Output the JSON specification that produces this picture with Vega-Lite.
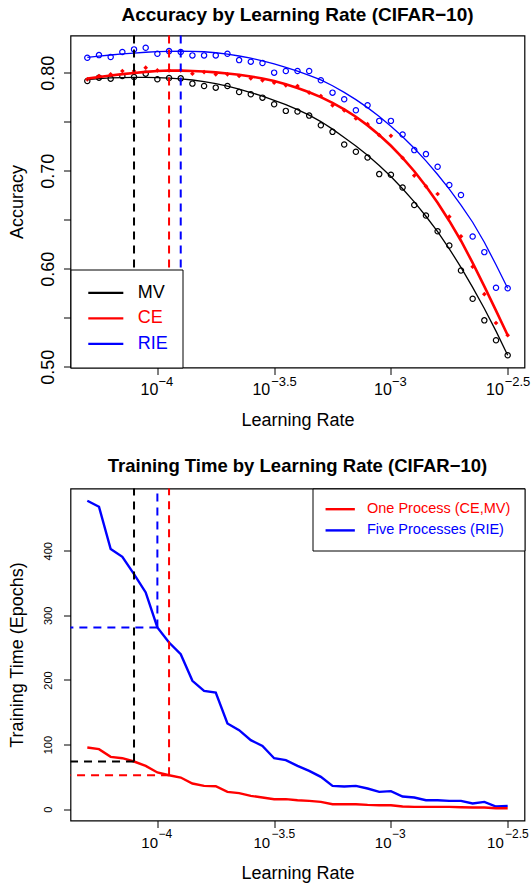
{
  "$schema": "https://vega.github.io/schema/vega-lite/v6.json",
  "padding": {"left": 7.5, "top": 4.5, "right": 0, "bottom": 0},
  "spacing": 121,
  "bounds": "flush",
  "config": {
    "font": "Liberation Sans",
    "view": {"stroke": "black", "strokeWidth": 1.2},
    "axis": {"domain": false, "grid": false, "tickColor": "black", "tickSize": 7, "tickWidth": 1, "labelColor": "black", "titleColor": "black", "labelFont": "Liberation Sans", "titleFont": "Liberation Sans", "titleFontWeight": "normal", "labelFlush": false, "labelOverlap": false},
    "title": {"font": "Liberation Sans", "fontWeight": "bold", "color": "black", "anchor": "middle", "baseline": "alphabetic"}
  },
  "datasets": {
    "accuracy": [
      {"series": "MV", "log10_lr": -4.3, "observed": 0.7915, "fitted": 0.7928},
      {"series": "MV", "log10_lr": -4.25, "observed": 0.7949, "fitted": 0.7939},
      {"series": "MV", "log10_lr": -4.2, "observed": 0.7939, "fitted": 0.7946},
      {"series": "MV", "log10_lr": -4.15, "observed": 0.7966, "fitted": 0.795},
      {"series": "MV", "log10_lr": -4.1, "observed": 0.7956, "fitted": 0.7952},
      {"series": "MV", "log10_lr": -4.05, "observed": 0.799, "fitted": 0.7952},
      {"series": "MV", "log10_lr": -4.0, "observed": 0.7932, "fitted": 0.7949},
      {"series": "MV", "log10_lr": -3.95, "observed": 0.7945, "fitted": 0.7944},
      {"series": "MV", "log10_lr": -3.9, "observed": 0.7942, "fitted": 0.7936},
      {"series": "MV", "log10_lr": -3.85, "observed": 0.7888, "fitted": 0.7925},
      {"series": "MV", "log10_lr": -3.8, "observed": 0.7864, "fitted": 0.7909},
      {"series": "MV", "log10_lr": -3.75, "observed": 0.7847, "fitted": 0.7889},
      {"series": "MV", "log10_lr": -3.7, "observed": 0.7864, "fitted": 0.7863},
      {"series": "MV", "log10_lr": -3.65, "observed": 0.7803, "fitted": 0.7833},
      {"series": "MV", "log10_lr": -3.6, "observed": 0.7779, "fitted": 0.7797},
      {"series": "MV", "log10_lr": -3.55, "observed": 0.7745, "fitted": 0.7761},
      {"series": "MV", "log10_lr": -3.5, "observed": 0.7678, "fitted": 0.7718},
      {"series": "MV", "log10_lr": -3.45, "observed": 0.761, "fitted": 0.7674},
      {"series": "MV", "log10_lr": -3.4, "observed": 0.7603, "fitted": 0.7623},
      {"series": "MV", "log10_lr": -3.35, "observed": 0.7562, "fitted": 0.7566},
      {"series": "MV", "log10_lr": -3.3, "observed": 0.7464, "fitted": 0.7501},
      {"series": "MV", "log10_lr": -3.25, "observed": 0.7396, "fitted": 0.7424},
      {"series": "MV", "log10_lr": -3.2, "observed": 0.7267, "fitted": 0.7339},
      {"series": "MV", "log10_lr": -3.15, "observed": 0.7193, "fitted": 0.7252},
      {"series": "MV", "log10_lr": -3.1, "observed": 0.7135, "fitted": 0.7157},
      {"series": "MV", "log10_lr": -3.05, "observed": 0.6965, "fitted": 0.7053},
      {"series": "MV", "log10_lr": -3.0, "observed": 0.6959, "fitted": 0.6941},
      {"series": "MV", "log10_lr": -2.95, "observed": 0.6828, "fitted": 0.6815},
      {"series": "MV", "log10_lr": -2.9, "observed": 0.665, "fitted": 0.6681},
      {"series": "MV", "log10_lr": -2.85, "observed": 0.6542, "fitted": 0.6535},
      {"series": "MV", "log10_lr": -2.8, "observed": 0.6382, "fitted": 0.6378},
      {"series": "MV", "log10_lr": -2.75, "observed": 0.6236, "fitted": 0.6203},
      {"series": "MV", "log10_lr": -2.7, "observed": 0.5982, "fitted": 0.6014},
      {"series": "MV", "log10_lr": -2.65, "observed": 0.5694, "fitted": 0.581},
      {"series": "MV", "log10_lr": -2.6, "observed": 0.5473, "fitted": 0.5594},
      {"series": "MV", "log10_lr": -2.55, "observed": 0.527, "fitted": 0.5363},
      {"series": "MV", "log10_lr": -2.5, "observed": 0.5117, "fitted": 0.5117},
      {"series": "CE", "log10_lr": -4.3, "observed": 0.7932, "fitted": 0.7939},
      {"series": "CE", "log10_lr": -4.25, "observed": 0.7966, "fitted": 0.7956},
      {"series": "CE", "log10_lr": -4.2, "observed": 0.7983, "fitted": 0.7971},
      {"series": "CE", "log10_lr": -4.15, "observed": 0.8017, "fitted": 0.7985},
      {"series": "CE", "log10_lr": -4.1, "observed": 0.8017, "fitted": 0.7997},
      {"series": "CE", "log10_lr": -4.05, "observed": 0.8051, "fitted": 0.8008},
      {"series": "CE", "log10_lr": -4.0, "observed": 0.8023, "fitted": 0.8017},
      {"series": "CE", "log10_lr": -3.95, "observed": 0.8023, "fitted": 0.8022},
      {"series": "CE", "log10_lr": -3.9, "observed": 0.8023, "fitted": 0.8021},
      {"series": "CE", "log10_lr": -3.85, "observed": 0.799, "fitted": 0.8017},
      {"series": "CE", "log10_lr": -3.8, "observed": 0.8006, "fitted": 0.8011},
      {"series": "CE", "log10_lr": -3.75, "observed": 0.7983, "fitted": 0.8003},
      {"series": "CE", "log10_lr": -3.7, "observed": 0.7983, "fitted": 0.7992},
      {"series": "CE", "log10_lr": -3.65, "observed": 0.7966, "fitted": 0.7978},
      {"series": "CE", "log10_lr": -3.6, "observed": 0.7942, "fitted": 0.7961},
      {"series": "CE", "log10_lr": -3.55, "observed": 0.7922, "fitted": 0.794},
      {"series": "CE", "log10_lr": -3.5, "observed": 0.7898, "fitted": 0.7915},
      {"series": "CE", "log10_lr": -3.45, "observed": 0.7871, "fitted": 0.7882},
      {"series": "CE", "log10_lr": -3.4, "observed": 0.7864, "fitted": 0.7844},
      {"series": "CE", "log10_lr": -3.35, "observed": 0.7796, "fitted": 0.78},
      {"series": "CE", "log10_lr": -3.3, "observed": 0.7762, "fitted": 0.775},
      {"series": "CE", "log10_lr": -3.25, "observed": 0.7667, "fitted": 0.7692},
      {"series": "CE", "log10_lr": -3.2, "observed": 0.7616, "fitted": 0.7626},
      {"series": "CE", "log10_lr": -3.15, "observed": 0.7532, "fitted": 0.755},
      {"series": "CE", "log10_lr": -3.1, "observed": 0.7474, "fitted": 0.7462},
      {"series": "CE", "log10_lr": -3.05, "observed": 0.7362, "fitted": 0.7364},
      {"series": "CE", "log10_lr": -3.0, "observed": 0.7355, "fitted": 0.7254},
      {"series": "CE", "log10_lr": -2.95, "observed": 0.713, "fitted": 0.7131},
      {"series": "CE", "log10_lr": -2.9, "observed": 0.695, "fitted": 0.6994},
      {"series": "CE", "log10_lr": -2.85, "observed": 0.684, "fitted": 0.6841},
      {"series": "CE", "log10_lr": -2.8, "observed": 0.6762, "fitted": 0.6672},
      {"series": "CE", "log10_lr": -2.75, "observed": 0.6531, "fitted": 0.6487},
      {"series": "CE", "log10_lr": -2.7, "observed": 0.633, "fitted": 0.6285},
      {"series": "CE", "log10_lr": -2.65, "observed": 0.602, "fitted": 0.606},
      {"series": "CE", "log10_lr": -2.6, "observed": 0.574, "fitted": 0.582},
      {"series": "CE", "log10_lr": -2.55, "observed": 0.5446, "fitted": 0.5572},
      {"series": "CE", "log10_lr": -2.5, "observed": 0.5321, "fitted": 0.5321},
      {"series": "RIE", "log10_lr": -4.3, "observed": 0.8152, "fitted": 0.8155},
      {"series": "RIE", "log10_lr": -4.25, "observed": 0.8179, "fitted": 0.8168},
      {"series": "RIE", "log10_lr": -4.2, "observed": 0.8159, "fitted": 0.818},
      {"series": "RIE", "log10_lr": -4.15, "observed": 0.821, "fitted": 0.8191},
      {"series": "RIE", "log10_lr": -4.1, "observed": 0.8237, "fitted": 0.82},
      {"series": "RIE", "log10_lr": -4.05, "observed": 0.8254, "fitted": 0.8208},
      {"series": "RIE", "log10_lr": -4.0, "observed": 0.8193, "fitted": 0.8214},
      {"series": "RIE", "log10_lr": -3.95, "observed": 0.822, "fitted": 0.8218},
      {"series": "RIE", "log10_lr": -3.9, "observed": 0.821, "fitted": 0.822},
      {"series": "RIE", "log10_lr": -3.85, "observed": 0.8176, "fitted": 0.8218},
      {"series": "RIE", "log10_lr": -3.8, "observed": 0.8176, "fitted": 0.8213},
      {"series": "RIE", "log10_lr": -3.75, "observed": 0.8176, "fitted": 0.8203},
      {"series": "RIE", "log10_lr": -3.7, "observed": 0.8193, "fitted": 0.8188},
      {"series": "RIE", "log10_lr": -3.65, "observed": 0.8128, "fitted": 0.817},
      {"series": "RIE", "log10_lr": -3.6, "observed": 0.8112, "fitted": 0.8148},
      {"series": "RIE", "log10_lr": -3.55, "observed": 0.8098, "fitted": 0.8121},
      {"series": "RIE", "log10_lr": -3.5, "observed": 0.8, "fitted": 0.8089},
      {"series": "RIE", "log10_lr": -3.45, "observed": 0.8017, "fitted": 0.8054},
      {"series": "RIE", "log10_lr": -3.4, "observed": 0.8017, "fitted": 0.8016},
      {"series": "RIE", "log10_lr": -3.35, "observed": 0.8017, "fitted": 0.7973},
      {"series": "RIE", "log10_lr": -3.3, "observed": 0.7922, "fitted": 0.7926},
      {"series": "RIE", "log10_lr": -3.25, "observed": 0.7796, "fitted": 0.7866},
      {"series": "RIE", "log10_lr": -3.2, "observed": 0.7728, "fitted": 0.7799},
      {"series": "RIE", "log10_lr": -3.15, "observed": 0.7616, "fitted": 0.7725},
      {"series": "RIE", "log10_lr": -3.1, "observed": 0.7667, "fitted": 0.7643},
      {"series": "RIE", "log10_lr": -3.05, "observed": 0.7508, "fitted": 0.7553},
      {"series": "RIE", "log10_lr": -3.0, "observed": 0.7508, "fitted": 0.7454},
      {"series": "RIE", "log10_lr": -2.95, "observed": 0.7369, "fitted": 0.7346},
      {"series": "RIE", "log10_lr": -2.9, "observed": 0.721, "fitted": 0.7228},
      {"series": "RIE", "log10_lr": -2.85, "observed": 0.7169, "fitted": 0.71},
      {"series": "RIE", "log10_lr": -2.8, "observed": 0.704, "fitted": 0.6961},
      {"series": "RIE", "log10_lr": -2.75, "observed": 0.6854, "fitted": 0.6811},
      {"series": "RIE", "log10_lr": -2.7, "observed": 0.6752, "fitted": 0.6649},
      {"series": "RIE", "log10_lr": -2.65, "observed": 0.6328, "fitted": 0.6474},
      {"series": "RIE", "log10_lr": -2.6, "observed": 0.6169, "fitted": 0.627},
      {"series": "RIE", "log10_lr": -2.55, "observed": 0.5806, "fitted": 0.604},
      {"series": "RIE", "log10_lr": -2.5, "observed": 0.58, "fitted": 0.58}
    ],
    "acc_peaks": [
      {"series": "MV", "log10_lr": -4.1},
      {"series": "CE", "log10_lr": -3.95},
      {"series": "RIE", "log10_lr": -3.9}
    ],
    "training": [
      {"process": "Five Processes (RIE)", "log10_lr": -4.3, "epochs": 477.3},
      {"process": "Five Processes (RIE)", "log10_lr": -4.25, "epochs": 468.0},
      {"process": "Five Processes (RIE)", "log10_lr": -4.2, "epochs": 402.5},
      {"process": "Five Processes (RIE)", "log10_lr": -4.15, "epochs": 390.6},
      {"process": "Five Processes (RIE)", "log10_lr": -4.1, "epochs": 363.8},
      {"process": "Five Processes (RIE)", "log10_lr": -4.05, "epochs": 335.4},
      {"process": "Five Processes (RIE)", "log10_lr": -4.0, "epochs": 281.2},
      {"process": "Five Processes (RIE)", "log10_lr": -3.95, "epochs": 258.0},
      {"process": "Five Processes (RIE)", "log10_lr": -3.9, "epochs": 239.9},
      {"process": "Five Processes (RIE)", "log10_lr": -3.85, "epochs": 198.7},
      {"process": "Five Processes (RIE)", "log10_lr": -3.8, "epochs": 183.2},
      {"process": "Five Processes (RIE)", "log10_lr": -3.75, "epochs": 180.6},
      {"process": "Five Processes (RIE)", "log10_lr": -3.7, "epochs": 132.6},
      {"process": "Five Processes (RIE)", "log10_lr": -3.65, "epochs": 122.3},
      {"process": "Five Processes (RIE)", "log10_lr": -3.6, "epochs": 106.8},
      {"process": "Five Processes (RIE)", "log10_lr": -3.55, "epochs": 98.0},
      {"process": "Five Processes (RIE)", "log10_lr": -3.5, "epochs": 78.9},
      {"process": "Five Processes (RIE)", "log10_lr": -3.45, "epochs": 75.9},
      {"process": "Five Processes (RIE)", "log10_lr": -3.4, "epochs": 67.1},
      {"process": "Five Processes (RIE)", "log10_lr": -3.35, "epochs": 59.3},
      {"process": "Five Processes (RIE)", "log10_lr": -3.3, "epochs": 50.0},
      {"process": "Five Processes (RIE)", "log10_lr": -3.25, "epochs": 36.1},
      {"process": "Five Processes (RIE)", "log10_lr": -3.2, "epochs": 35.1},
      {"process": "Five Processes (RIE)", "log10_lr": -3.15, "epochs": 36.1},
      {"process": "Five Processes (RIE)", "log10_lr": -3.1, "epochs": 32.0},
      {"process": "Five Processes (RIE)", "log10_lr": -3.05, "epochs": 26.8},
      {"process": "Five Processes (RIE)", "log10_lr": -3.0, "epochs": 27.9},
      {"process": "Five Processes (RIE)", "log10_lr": -2.95, "epochs": 19.6},
      {"process": "Five Processes (RIE)", "log10_lr": -2.9, "epochs": 18.1},
      {"process": "Five Processes (RIE)", "log10_lr": -2.85, "epochs": 13.9},
      {"process": "Five Processes (RIE)", "log10_lr": -2.8, "epochs": 13.9},
      {"process": "Five Processes (RIE)", "log10_lr": -2.75, "epochs": 12.9},
      {"process": "Five Processes (RIE)", "log10_lr": -2.7, "epochs": 12.9},
      {"process": "Five Processes (RIE)", "log10_lr": -2.65, "epochs": 8.8},
      {"process": "Five Processes (RIE)", "log10_lr": -2.6, "epochs": 11.3},
      {"process": "Five Processes (RIE)", "log10_lr": -2.55, "epochs": 4.1},
      {"process": "Five Processes (RIE)", "log10_lr": -2.5, "epochs": 5.2},
      {"process": "One Process (CE,MV)", "log10_lr": -4.3, "epochs": 95.5},
      {"process": "One Process (CE,MV)", "log10_lr": -4.25, "epochs": 92.9},
      {"process": "One Process (CE,MV)", "log10_lr": -4.2, "epochs": 81.0},
      {"process": "One Process (CE,MV)", "log10_lr": -4.15, "epochs": 78.9},
      {"process": "One Process (CE,MV)", "log10_lr": -4.1, "epochs": 73.8},
      {"process": "One Process (CE,MV)", "log10_lr": -4.05, "epochs": 67.1},
      {"process": "One Process (CE,MV)", "log10_lr": -4.0, "epochs": 56.8},
      {"process": "One Process (CE,MV)", "log10_lr": -3.95, "epochs": 52.6},
      {"process": "One Process (CE,MV)", "log10_lr": -3.9, "epochs": 49.0},
      {"process": "One Process (CE,MV)", "log10_lr": -3.85, "epochs": 39.7},
      {"process": "One Process (CE,MV)", "log10_lr": -3.8, "epochs": 36.1},
      {"process": "One Process (CE,MV)", "log10_lr": -3.75, "epochs": 35.6},
      {"process": "One Process (CE,MV)", "log10_lr": -3.7, "epochs": 26.8},
      {"process": "One Process (CE,MV)", "log10_lr": -3.65, "epochs": 24.8},
      {"process": "One Process (CE,MV)", "log10_lr": -3.6, "epochs": 20.6},
      {"process": "One Process (CE,MV)", "log10_lr": -3.55, "epochs": 18.1},
      {"process": "One Process (CE,MV)", "log10_lr": -3.5, "epochs": 15.5},
      {"process": "One Process (CE,MV)", "log10_lr": -3.45, "epochs": 15.5},
      {"process": "One Process (CE,MV)", "log10_lr": -3.4, "epochs": 13.9},
      {"process": "One Process (CE,MV)", "log10_lr": -3.35, "epochs": 12.9},
      {"process": "One Process (CE,MV)", "log10_lr": -3.3, "epochs": 11.3},
      {"process": "One Process (CE,MV)", "log10_lr": -3.25, "epochs": 7.7},
      {"process": "One Process (CE,MV)", "log10_lr": -3.2, "epochs": 7.7},
      {"process": "One Process (CE,MV)", "log10_lr": -3.15, "epochs": 7.7},
      {"process": "One Process (CE,MV)", "log10_lr": -3.1, "epochs": 6.7},
      {"process": "One Process (CE,MV)", "log10_lr": -3.05, "epochs": 6.2},
      {"process": "One Process (CE,MV)", "log10_lr": -3.0, "epochs": 6.2},
      {"process": "One Process (CE,MV)", "log10_lr": -2.95, "epochs": 4.1},
      {"process": "One Process (CE,MV)", "log10_lr": -2.9, "epochs": 3.6},
      {"process": "One Process (CE,MV)", "log10_lr": -2.85, "epochs": 3.6},
      {"process": "One Process (CE,MV)", "log10_lr": -2.8, "epochs": 3.6},
      {"process": "One Process (CE,MV)", "log10_lr": -2.75, "epochs": 3.6},
      {"process": "One Process (CE,MV)", "log10_lr": -2.7, "epochs": 3.1},
      {"process": "One Process (CE,MV)", "log10_lr": -2.65, "epochs": 2.6},
      {"process": "One Process (CE,MV)", "log10_lr": -2.6, "epochs": 2.6},
      {"process": "One Process (CE,MV)", "log10_lr": -2.55, "epochs": 1.5},
      {"process": "One Process (CE,MV)", "log10_lr": -2.5, "epochs": 1.5}
    ],
    "time_peaks": [
      {"series": "MV", "log10_lr": -4.1, "epochs": 73.8},
      {"series": "CE", "log10_lr": -3.95, "epochs": 52.6},
      {"series": "RIE", "log10_lr": -4.0, "epochs": 281.2}
    ]
  },
  "vconcat": [
    {
      "width": 454,
      "height": 332,
      "title": {"text": "Accuracy by Learning Rate (CIFAR−10)", "fontSize": 19, "offset": 9.5},
      "resolve": {"axis": {"x": "independent"}, "scale": {"color": "independent"}},
      "layer": [
        {
          "data": {"name": "accuracy"},
          "transform": [{"filter": "datum.series != 'CE'"}],
          "mark": {"type": "point", "shape": "circle", "filled": false, "size": 28, "strokeWidth": 1.2, "opacity": 1},
          "encoding": {
            "x": {"field": "log10_lr", "type": "quantitative", "scale": {"domain": [-4.372, -2.428], "nice": false, "zero": false},
              "axis": {"orient": "bottom", "values": [-4, -3.5, -3, -2.5], "labelExpr": "'10'", "labelFontSize": 16, "labelBaseline": "alphabetic", "labelAlign": "center", "labelPadding": 20,
                "labelOffset": {"condition": {"test": "datum.value % 1 == 0", "value": -8.5}, "value": -13.3},
                "title": "Learning Rate", "titleFontSize": 18, "titleBaseline": "alphabetic", "titlePadding": 27.5}},
            "y": {"field": "observed", "type": "quantitative", "scale": {"domain": [0.4992, 0.8379], "nice": false, "zero": false},
              "axis": {"title": "Accuracy", "titleFontSize": 18, "titleBaseline": "alphabetic", "titlePadding": 17.4,
                "values": [0.5, 0.55, 0.6, 0.65, 0.7, 0.75, 0.8],
                "labelExpr": "round(datum.value*100) % 10 == 0 ? format(datum.value, '.2f') : ''",
                "labelAngle": 270, "labelAlign": "center", "labelBaseline": "alphabetic", "labelPadding": 9.7, "labelFontSize": 18}},
            "color": {"field": "series", "type": "nominal", "scale": {"domain": ["MV", "RIE"], "range": ["black", "blue"]}, "legend": null}
          }
        },
        {
          "data": {"name": "accuracy"},
          "transform": [{"filter": "datum.series == 'CE'"}],
          "mark": {"type": "point", "shape": "diamond", "filled": true, "size": 22, "color": "red", "opacity": 1},
          "encoding": {
            "x": {"field": "log10_lr", "type": "quantitative", "axis": null},
            "y": {"field": "observed", "type": "quantitative"}
          }
        },
        {
          "data": {"name": "accuracy"},
          "transform": [{"filter": "datum.series != 'CE'"}],
          "mark": {"type": "line", "strokeWidth": 1.3},
          "encoding": {
            "x": {"field": "log10_lr", "type": "quantitative",
              "axis": {"orient": "bottom", "values": [-4, -3.5, -3, -2.5], "labelExpr": "replace(toString(datum.value), '-', '−')", "ticks": false, "labelFontSize": 13, "labelBaseline": "alphabetic", "labelAlign": "left", "labelPadding": 18,
                "labelOffset": {"condition": {"test": "datum.value % 1 == 0", "value": 0.5}, "value": -3.5}, "title": null}},
            "y": {"field": "fitted", "type": "quantitative"},
            "color": {"field": "series", "type": "nominal", "scale": {"domain": ["MV", "CE", "RIE"], "range": ["black", "red", "blue"]},
              "legend": {"title": null, "orient": "bottom-left", "offset": 0, "symbolType": "M-2.9,0L2.9,0", "symbolSize": 146, "symbolStrokeWidth": 2.2, "symbolOffset": 12,
                "labelFontSize": 18, "labelFont": "Liberation Sans", "labelOffset": 23, "labelLimit": 300,
                "labelColor": {"expr": "datum.label == 'MV' ? 'black' : datum.label == 'CE' ? 'red' : 'blue'"},
                "padding": 14.3, "rowPadding": 7.5, "strokeColor": "black", "fillColor": "white"}}
          }
        },
        {
          "data": {"name": "accuracy"},
          "transform": [{"filter": "datum.series == 'CE'"}],
          "mark": {"type": "line", "strokeWidth": 2.6, "color": "red"},
          "encoding": {
            "x": {"field": "log10_lr", "type": "quantitative", "axis": null},
            "y": {"field": "fitted", "type": "quantitative"}
          }
        },
        {
          "data": {"name": "acc_peaks"},
          "mark": {"type": "rule", "strokeWidth": 2, "strokeDash": [8, 6]},
          "encoding": {
            "x": {"field": "log10_lr", "type": "quantitative", "axis": null},
            "color": {"field": "series", "type": "nominal", "scale": {"domain": ["MV", "CE", "RIE"], "range": ["black", "red", "blue"]}, "legend": null}
          }
        }
      ]
    },
    {
      "width": 454,
      "height": 332,
      "title": {"text": "Training Time by Learning Rate (CIFAR−10)", "fontSize": 18.5, "offset": 12},
      "resolve": {"axis": {"x": "independent"}, "scale": {"color": "independent"}},
      "layer": [
        {
          "data": {"name": "training"},
          "mark": {"type": "line", "strokeWidth": 2.4},
          "encoding": {
            "x": {"field": "log10_lr", "type": "quantitative", "scale": {"domain": [-4.372, -2.428], "nice": false, "zero": false},
              "axis": {"orient": "bottom", "values": [-4, -3.5, -3, -2.5], "labelExpr": "'10'", "labelFontSize": 15, "labelBaseline": "alphabetic", "labelAlign": "center", "labelPadding": 20,
                "labelOffset": {"condition": {"test": "datum.value % 1 == 0", "value": -8.2}, "value": -12.8},
                "title": "Learning Rate", "titleFontSize": 18, "titleBaseline": "alphabetic", "titlePadding": 27.5}},
            "y": {"field": "epochs", "type": "quantitative", "scale": {"domain": [-17.5, 496.3], "nice": false, "zero": false},
              "axis": {"title": "Training Time (Epochs)", "titleFontSize": 18, "titleBaseline": "alphabetic", "titlePadding": 20,
                "values": [0, 100, 200, 300, 400], "labelAngle": 270, "labelAlign": "center", "labelBaseline": "alphabetic", "labelPadding": 12.3, "labelFontSize": 11}},
            "color": {"field": "process", "type": "nominal", "scale": {"domain": ["One Process (CE,MV)", "Five Processes (RIE)"], "range": ["red", "blue"]},
              "legend": {"title": null, "orient": "top-right", "offset": 0, "symbolType": "M-2.9,0L2.9,0", "symbolSize": 102, "symbolStrokeWidth": 2.4, "symbolOffset": 7,
                "labelFontSize": 14.5, "labelFont": "Liberation Sans", "labelOffset": 19.5, "labelLimit": 300,
                "labelColor": {"expr": "datum.label == 'Five Processes (RIE)' ? 'blue' : 'red'"},
                "padding": 13.45, "rowPadding": 6.2, "strokeColor": "black", "fillColor": "white"}}
          }
        },
        {
          "data": {"name": "time_peaks"},
          "mark": {"type": "rule", "strokeWidth": 2, "strokeDash": [8, 6]},
          "encoding": {
            "x": {"field": "log10_lr", "type": "quantitative",
              "axis": {"orient": "bottom", "values": [-4, -3.5, -3, -2.5], "labelExpr": "replace(toString(datum.value), '-', '−')", "ticks": false, "labelFontSize": 12, "labelBaseline": "alphabetic", "labelAlign": "left", "labelPadding": 17,
                "labelOffset": {"condition": {"test": "datum.value % 1 == 0", "value": 0.5}, "value": -3.2}, "title": null}},
            "y": {"field": "epochs", "type": "quantitative"},
            "y2": {"datum": 496.3},
            "color": {"field": "series", "type": "nominal", "scale": {"domain": ["MV", "CE", "RIE"], "range": ["black", "red", "blue"]}, "legend": null}
          }
        },
        {
          "data": {"name": "time_peaks"},
          "mark": {"type": "rule", "strokeWidth": 2, "strokeDash": [8, 6]},
          "encoding": {
            "x": {"field": "log10_lr", "type": "quantitative", "axis": null},
            "x2": {"datum": -4.372},
            "y": {"field": "epochs", "type": "quantitative"},
            "color": {"field": "series", "type": "nominal", "scale": {"domain": ["MV", "CE", "RIE"], "range": ["black", "red", "blue"]}, "legend": null}
          }
        }
      ]
    }
  ]
}
